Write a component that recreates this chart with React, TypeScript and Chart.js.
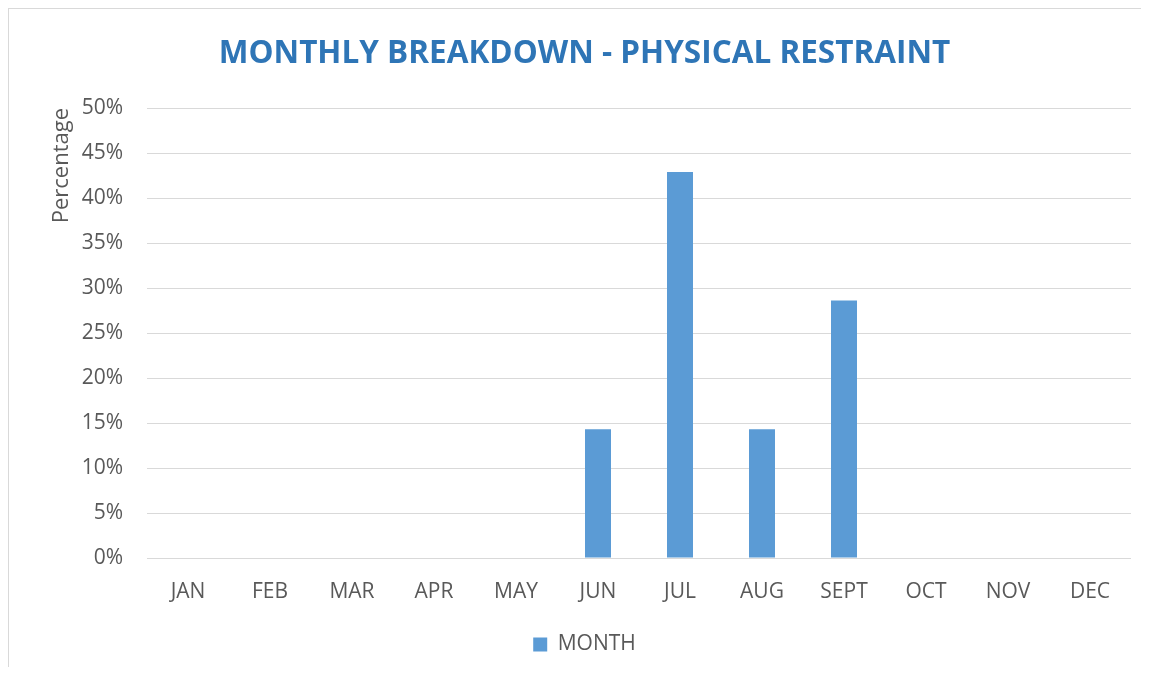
import React, { useEffect, useRef } from "react";
import { Chart, registerables } from "chart.js";

Chart.register(...registerables);

const categories = ["JAN", "FEB", "MAR", "APR", "MAY", "JUN", "JUL", "AUG", "SEPT", "OCT", "NOV", "DEC"];
const monthValues = [0, 0, 0, 0, 0, 14.3, 42.9, 14.3, 28.6, 0, 0, 0];
const seriesName = "MONTH";
const chartTitle = "MONTHLY BREAKDOWN - PHYSICAL RESTRAINT";
const yAxisTitle = "Percentage";
const yMin = 0;
const yMax = 50;
const yStep = 5;

const FONT = "'Open Sans', 'Liberation Sans', sans-serif";
const TEXT = "#595959";
const GRID = "#d9d9d9";

export default function App() {
  const ref = useRef<HTMLCanvasElement | null>(null);

  useEffect(() => {
    document.body.style.overflow = "hidden";
    const ctx = ref.current;
    if (!ctx) return;
    const chart = new Chart(ctx, {
      type: "bar",
      data: {
        labels: categories,
        datasets: [
          {
            label: seriesName,
            data: monthValues,
            backgroundColor: "#5B9BD5",
            borderWidth: 0,
            categoryPercentage: 1,
            barPercentage: 0.317,
          },
        ],
      },
      options: {
        animation: false,
        responsive: true,
        maintainAspectRatio: false,
        layout: { padding: { left: 30, right: 18, top: 0, bottom: 2 } },
        plugins: {
          title: {
            display: true,
            text: chartTitle,
            color: "#2E75B6",
            font: { family: FONT, size: 31.5, weight: "bold", lineHeight: 1.2 },
            padding: { top: 27.5, bottom: 34.7 },
          },
          legend: {
            display: true,
            position: "bottom",
            labels: {
              color: TEXT,
              font: { family: FONT, size: 21 },
              boxWidth: 14,
              boxHeight: 14,
              padding: 10,
            },
          },
          tooltip: { enabled: false },
        },
        scales: {
          x: {
            grid: { display: false, drawTicks: false },
            border: { display: false },
            ticks: {
              color: TEXT,
              font: { family: FONT, size: 21 },
              padding: 21,
              maxRotation: 0,
              autoSkip: false,
            },
            afterFit: (scale: any) => {
              scale.height = 66;
            },
          },
          y: {
            min: yMin,
            max: yMax,
            grid: { color: GRID, lineWidth: 1, drawTicks: false },
            border: { display: false },
            ticks: {
              stepSize: yStep,
              color: TEXT,
              font: { family: FONT, size: 21 },
              padding: 24,
              callback: (v: any) => v + "%",
            },
            title: {
              display: true,
              text: yAxisTitle,
              align: "end",
              color: TEXT,
              font: { family: FONT, size: 22, lineHeight: 1.2 },
              padding: { top: 11, bottom: 0 },
            },
            afterFit: (scale: any) => {
              scale.width = 109;
            },
          },
        },
      },
    });
    return () => chart.destroy();
  }, []);

  return (
    <div
      style={{
        position: "relative",
        width: 1141,
        height: 659,
        boxShadow: "inset 1px 1px 0 #d9d9d9",
      }}
    >
      <canvas ref={ref} />
    </div>
  );
}
